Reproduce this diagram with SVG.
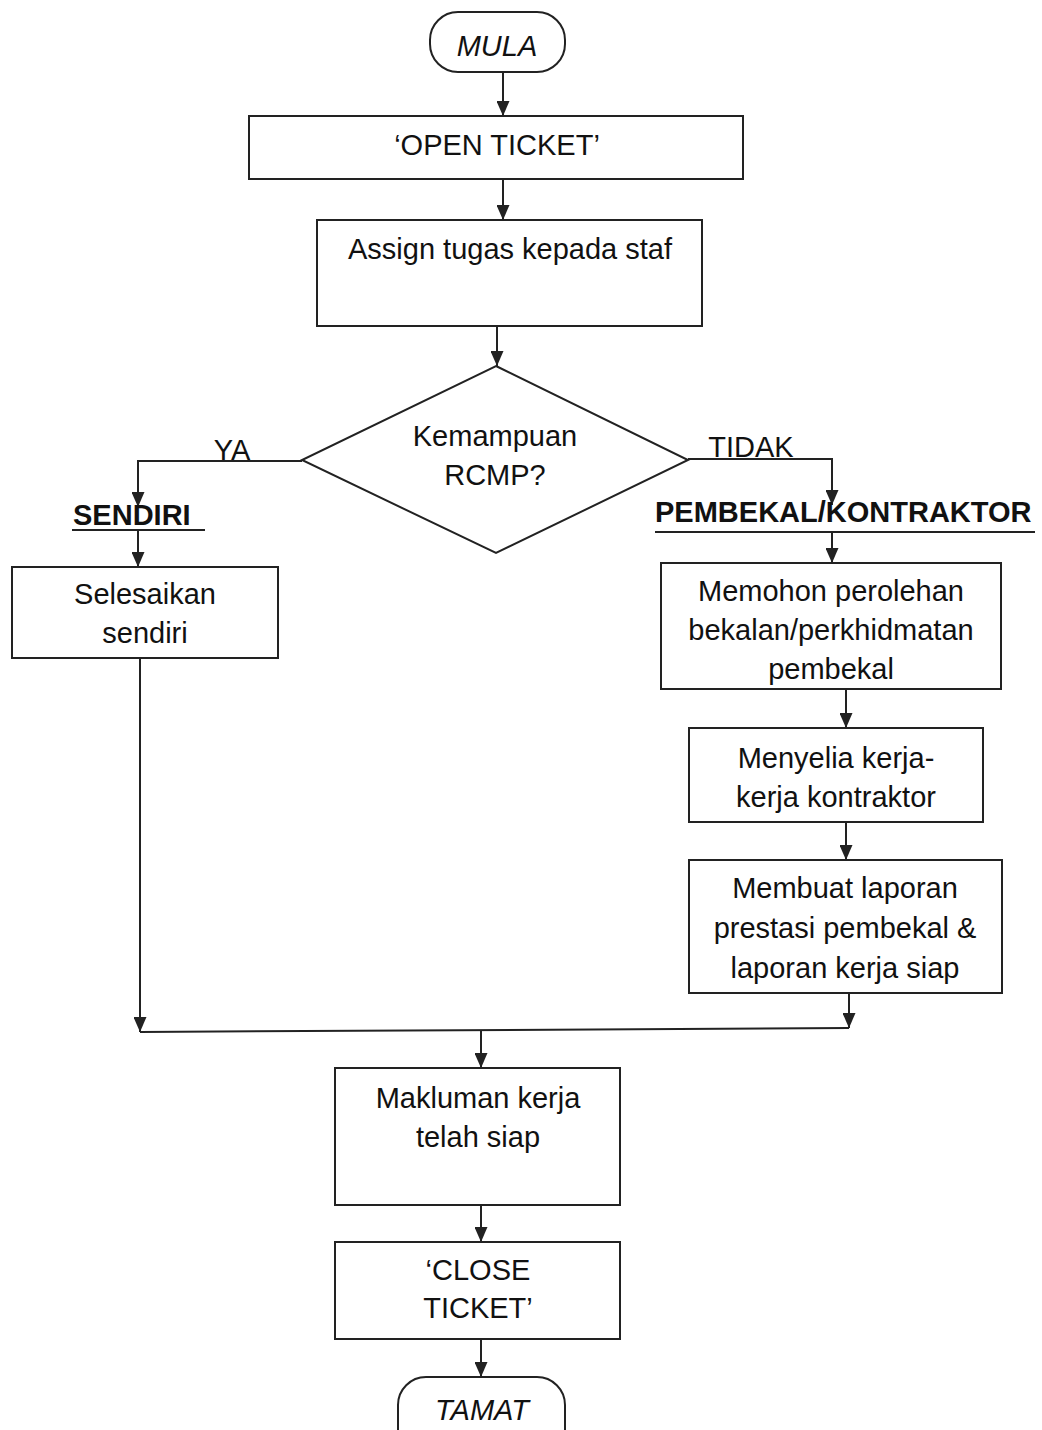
<svg xmlns="http://www.w3.org/2000/svg" width="1042" height="1430" viewBox="0 0 1042 1430">
<defs>
<marker id="ah" markerWidth="15" markerHeight="13" refX="15" refY="6.5" orient="auto" markerUnits="userSpaceOnUse" viewBox="0 0 15 13">
<path d="M0,0 L15,6.5 L0,13 Z" fill="#222"/>
</marker>
<clipPath id="clipMemohon"><rect x="661" y="563" width="340" height="126"/></clipPath>
<style>
.b{fill:#fff;stroke:#222;stroke-width:2}
.t{font-family:"Liberation Sans",Arial,sans-serif;font-size:29px;fill:#111;text-anchor:middle}
.i{font-style:italic}
.u{font-weight:bold;text-anchor:start}
.c{fill:none;stroke:#222;stroke-width:2}
.a{fill:none;stroke:#222;stroke-width:2}
</style>
</defs>
<rect width="1042" height="1430" fill="#fff"/>
<g id="connectors">
<line class="a" x1="503" y1="72" x2="503" y2="116" marker-end="url(#ah)"/>
<line class="a" x1="503" y1="179" x2="503" y2="220" marker-end="url(#ah)"/>
<line class="a" x1="497" y1="326" x2="497" y2="366" marker-end="url(#ah)"/>
<polyline class="a" points="302,461 138,461 138,507" marker-end="url(#ah)"/>
<line class="a" x1="138" y1="530" x2="138" y2="567" marker-end="url(#ah)"/>
<polyline class="a" points="688,459 832,459 832,505" marker-end="url(#ah)"/>
<line class="a" x1="832" y1="532" x2="832" y2="563" marker-end="url(#ah)"/>
<line class="a" x1="846" y1="689" x2="846" y2="728" marker-end="url(#ah)"/>
<line class="a" x1="846" y1="822" x2="846" y2="860" marker-end="url(#ah)"/>
<line class="a" x1="140" y1="658" x2="140" y2="1032" marker-end="url(#ah)"/>
<line class="a" x1="849" y1="993" x2="849" y2="1028" marker-end="url(#ah)"/>
<line class="c" x1="140" y1="1032" x2="849" y2="1028"/>
<line class="a" x1="481" y1="1030" x2="481" y2="1068" marker-end="url(#ah)"/>
<line class="a" x1="481" y1="1205" x2="481" y2="1242" marker-end="url(#ah)"/>
<line class="a" x1="481" y1="1339" x2="481" y2="1377" marker-end="url(#ah)"/>
<text class="t" x="232" y="460">YA</text>
<text class="t" x="751" y="457">TIDAK</text>
<text class="t u" x="73" y="525">SENDIRI</text>
<line class="c" x1="72" y1="530" x2="205" y2="530"/>
<text class="t u" x="655" y="522">PEMBEKAL/KONTRAKTOR</text>
<line class="c" x1="655" y1="532" x2="1035" y2="532"/>
</g>
<g id="mula">
<rect class="b" x="430" y="12" width="135" height="60" rx="28"/>
<text class="t i" x="497" y="56">MULA</text>
</g>
<g id="open-ticket">
<rect class="b" x="249" y="116" width="494" height="63"/>
<text class="t" x="497" y="155">‘OPEN TICKET’</text>
</g>
<g id="assign">
<rect class="b" x="317" y="220" width="385" height="106"/>
<text class="t" x="510" y="259">Assign tugas kepada staf</text>
</g>
<g id="decision">
<polygon class="b" points="496,366 688,460 496,553 302,460"/>
<text class="t" x="495" y="446">Kemampuan</text>
<text class="t" x="495" y="485">RCMP?</text>
</g>
<g id="selesaikan">
<rect class="b" x="12" y="567" width="266" height="91"/>
<text class="t" x="145" y="604">Selesaikan</text>
<text class="t" x="145" y="643">sendiri</text>
</g>
<g id="memohon">
<rect class="b" x="661" y="563" width="340" height="126"/>
<g clip-path="url(#clipMemohon)">
<text class="t" x="831" y="601">Memohon perolehan</text>
<text class="t" x="831" y="640">bekalan/perkhidmatan</text>
<text class="t" x="831" y="679">pembekal</text>
</g>
</g>
<g id="menyelia">
<rect class="b" x="689" y="728" width="294" height="94"/>
<text class="t" x="836" y="768">Menyelia kerja-</text>
<text class="t" x="836" y="807">kerja kontraktor</text>
</g>
<g id="membuat">
<rect class="b" x="689" y="860" width="313" height="133"/>
<text class="t" x="845" y="898">Membuat laporan</text>
<text class="t" x="845" y="938">prestasi pembekal &amp;</text>
<text class="t" x="845" y="978">laporan kerja siap</text>
</g>
<g id="makluman">
<rect class="b" x="335" y="1068" width="285" height="137"/>
<text class="t" x="478" y="1108">Makluman kerja</text>
<text class="t" x="478" y="1147">telah siap</text>
</g>
<g id="close-ticket">
<rect class="b" x="335" y="1242" width="285" height="97"/>
<text class="t" x="478" y="1280">‘CLOSE</text>
<text class="t" x="478" y="1318">TICKET’</text>
</g>
<g id="tamat">
<rect class="b" x="398" y="1377" width="167" height="80" rx="28"/>
<text class="t i" x="482" y="1420">TAMAT</text>
</g>
</svg>
